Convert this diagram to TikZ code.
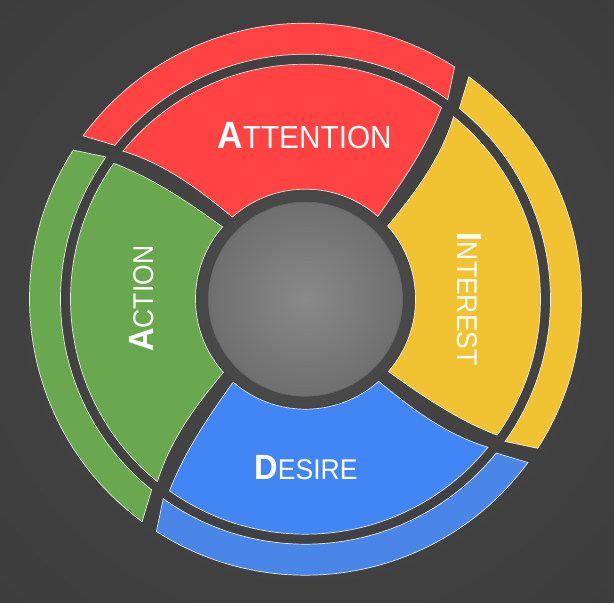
\documentclass[tikz,border=0pt]{standalone}
\usepackage{fontspec}
\newfontfamily\labelfont[FakeStretch=0.93]{Liberation Sans}
\definecolor{cred}{HTML}{FF4242}
\definecolor{cyellow}{HTML}{F1C232}
\definecolor{cblue}{HTML}{4285F4}
\definecolor{cbluering}{HTML}{4A86E8}
\definecolor{cgreen}{HTML}{6AA84F}
\definecolor{bgin}{HTML}{474747}
\definecolor{bgmid}{HTML}{393939}
\definecolor{bgout}{HTML}{2C2C2C}
\definecolor{discin}{HTML}{898989}
\definecolor{discout}{HTML}{555555}
\definecolor{discrim}{HTML}{484848}
\definecolor{discedge}{HTML}{666666}
\pgfdeclareradialshading{bgshade}{\pgfpoint{0bp}{0bp}}{color(0bp)=(bgin); color(50bp)=(bgmid); color(72bp)=(bgout)}
\pgfdeclareradialshading{discshade}{\pgfpoint{0bp}{0bp}}{color(0bp)=(discin); color(50bp)=(discout)}
% first letter big and bold, the rest as small capitals
\newcommand{\capword}[4]{{\fontsize{#1pt}{#1pt}\selectfont\bfseries #3}{\fontsize{#2pt}{#2pt}\selectfont #4}}

\begin{document}
\begin{tikzpicture}[x=1pt,y=1pt,
  seg/.style={draw=white,draw opacity=.85,line width=.7pt},
  lbl/.style={text=white,inner sep=0pt,anchor=base,font=\labelfont}]
  \useasboundingbox (-305.5,-303.8) rectangle (308.5,299.2);
  \clip (-305.5,-303.8) rectangle (308.5,299.2);
  \shade[shading=bgshade] (-305.5,-303.8) rectangle (308.5,299.2);
  % inner segments and outer ring pieces
  \foreach \a/\col/\rcol in {90/cred/cred,0/cyellow/cyellow,-90/cblue/cbluering,180/cgreen/cgreen}{
    \fill[\col,seg] ({\a-41.1}:110) .. controls ({\a-39.6}:151) and ({\a-38.5}:194) .. ({\a-35.35}:235)
      arc[start angle=\a-35.35,end angle=\a+50.95,radius=235]
      .. controls ({\a+45.9}:194) and ({\a+44.1}:151) .. ({\a+41.7}:110)
      arc[start angle=\a+41.7,end angle=\a-41.1,radius=110] -- cycle;
    \fill[\rcol,seg] ({\a-35.5}:245) -- ({\a-32.7}:276)
      arc[start angle=\a-32.7,end angle=\a+53.7,radius=276]
      -- ({\a+51.1}:245)
      arc[start angle=\a+51.1,end angle=\a-35.5,radius=245] -- cycle;
  }
  % centre disc
  \fill[discrim] (0,0) circle (108);
  \shade[shading=discshade] (0,0) circle (97);
  \draw[discedge,line width=.8pt] (0,0) circle (97);
  % labels
  \node[lbl] (att) at (-1,151) {\capword{38}{32}{A}{TTENTION}};
  \node[lbl] (des) at (0.5,-180) {\capword{35}{28.5}{D}{ESIRE}};
  \node[lbl,rotate=90] (act) at (-151.5,0.5) {\capword{35}{28.5}{A}{CTION}};
  \node[lbl,rotate=-90] (int) at (152.5,0) {\capword{35}{28.5}{I}{NTEREST}};
\end{tikzpicture}
\end{document}
